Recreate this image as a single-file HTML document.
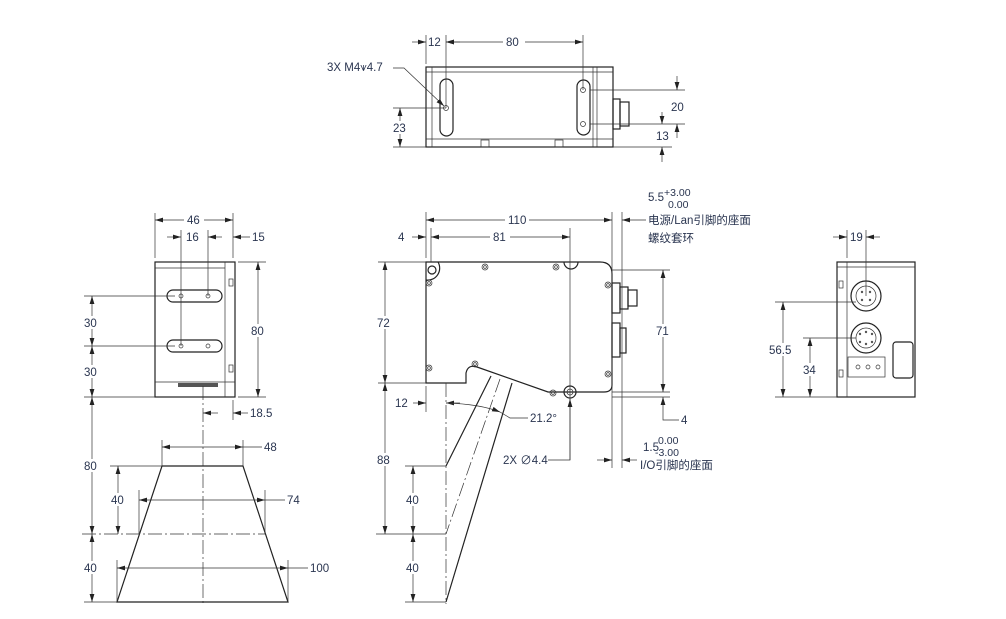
<!DOCTYPE html>
<html><head><meta charset="utf-8"><style>
html,body{margin:0;padding:0;background:#fff}
svg{display:block}
text{font-family:"Liberation Sans","Noto Sans CJK SC",sans-serif;font-size:11.5px;fill:#2a3550}
.o{stroke:#222;stroke-width:1.2;fill:none}
.t{stroke:#333;stroke-width:0.7;fill:none}
.d{stroke:#333;stroke-width:0.7;fill:none;marker-start:url(#a);marker-end:url(#a)}
.e{stroke:#333;stroke-width:0.7;fill:none;marker-end:url(#a)}
.c{stroke:#333;stroke-width:0.7;fill:none;stroke-dasharray:14 3 2 3}
.h{stroke:#333;stroke-width:0.8;fill:#fff}
</style></head><body>
<svg width="1006" height="619" viewBox="0 0 1006 619" xmlns="http://www.w3.org/2000/svg">
<defs><marker id="a" viewBox="0 0 10 6" refX="10" refY="3" markerWidth="8" markerHeight="5" orient="auto-start-reverse" markerUnits="userSpaceOnUse"><path d="M0,0L10,3L0,6z" fill="#222"/></marker></defs>

<!-- TOP VIEW -->
<rect class="o" x="426" y="67" width="187" height="80"/>
<line class="t" x1="426" y1="139" x2="613" y2="139"/>
<line class="t" x1="426" y1="72" x2="613" y2="72"/>
<line class="t" x1="432" y1="67" x2="432" y2="147"/>
<line class="t" x1="593" y1="67" x2="593" y2="147"/>
<line class="t" x1="597" y1="67" x2="597" y2="147"/>
<rect class="o" x="440" y="79" width="13" height="57" rx="6.5"/>
<rect class="o" x="577" y="80" width="13" height="55" rx="6.5"/>
<circle class="t" cx="446" cy="108" r="2.5"/><circle class="t" cx="583" cy="90" r="2.5"/><circle class="t" cx="583" cy="124" r="2.5"/>
<rect class="t" x="481" y="140" width="8" height="7"/><rect class="t" x="555" y="140" width="8" height="7"/>
<rect class="o" x="613" y="99" width="7" height="30"/><rect class="o" x="620" y="102" width="9" height="24"/>
<line class="t" x1="426" y1="35" x2="426" y2="64"/><line class="t" x1="446" y1="35" x2="446" y2="108"/><line class="t" x1="583" y1="35" x2="583" y2="90"/>
<line class="e" x1="412" y1="42" x2="426" y2="42"/><line class="e" x1="460" y1="42" x2="446" y2="42"/>
<line class="d" x1="446" y1="42" x2="583" y2="42"/><rect x="503" y="35" width="22" height="13" fill="#fff"/>
<text x="428" y="46">12</text><text x="506" y="46">80</text>
<line class="t" x1="393" y1="108" x2="446" y2="108"/><line class="t" x1="393" y1="147" x2="426" y2="147"/>
<line class="d" x1="400" y1="108" x2="400" y2="147"/><rect x="392" y="121" width="16" height="13" fill="#fff"/><text x="393" y="132">23</text>
<text x="327" y="71">3X M4⩛4.7</text><polyline class="e" points="393,68 404,68 444,106"/>
<line class="t" x1="590" y1="90" x2="685" y2="90"/><line class="t" x1="590" y1="124" x2="685" y2="124"/><line class="t" x1="613" y1="147" x2="672" y2="147"/>
<line class="e" x1="677" y1="76" x2="677" y2="90"/><line class="e" x1="677" y1="138" x2="677" y2="124"/><text x="671" y="111">20</text>
<line class="e" x1="662" y1="112" x2="662" y2="124"/><line class="e" x1="662" y1="162" x2="662" y2="147"/><text x="656" y="140">13</text>

<!-- LEFT VIEW -->
<rect class="o" x="155" y="262" width="80" height="135"/>
<line class="t" x1="225" y1="262" x2="225" y2="397"/><line class="t" x1="155" y1="268" x2="225" y2="268"/>
<line class="t" x1="155" y1="382" x2="235" y2="382"/>
<rect class="t" x="229" y="279" width="4" height="7"/><rect class="t" x="229" y="365" width="4" height="7"/>
<rect class="o" x="167" y="290" width="55" height="12" rx="6"/><rect class="o" x="167" y="340" width="55" height="12" rx="6"/>
<circle class="t" cx="181" cy="296" r="2"/><circle class="t" cx="208" cy="296" r="2"/><circle class="t" cx="181" cy="346" r="2"/><circle class="t" cx="208" cy="346" r="2"/>
<rect x="178" y="383" width="40" height="4" fill="#555"/>
<line class="t" x1="155" y1="213" x2="155" y2="258"/><line class="t" x1="233" y1="213" x2="233" y2="258"/>
<line class="d" x1="155" y1="220" x2="233" y2="220"/><rect x="184" y="213" width="20" height="13" fill="#fff"/><text x="187" y="224">46</text>
<line class="t" x1="181" y1="230" x2="181" y2="346"/><line class="t" x1="208" y1="230" x2="208" y2="296"/>
<line class="e" x1="167" y1="237" x2="181" y2="237"/><line class="e" x1="222" y1="237" x2="208" y2="237"/><line class="e" x1="250" y1="237" x2="233" y2="237"/>
<text x="186" y="241">16</text><text x="252" y="241">15</text>
<line class="t" x1="238" y1="262" x2="266" y2="262"/><line class="t" x1="238" y1="397" x2="266" y2="397"/>
<line class="d" x1="258" y1="262" x2="258" y2="397"/><rect x="250" y="324" width="18" height="13" fill="#fff"/><text x="251" y="335">80</text>
<line class="t" x1="84" y1="296" x2="175" y2="296"/><line class="t" x1="84" y1="346" x2="175" y2="346"/><line class="t" x1="84" y1="397" x2="155" y2="397"/>
<line class="d" x1="92" y1="296" x2="92" y2="346"/><line class="d" x1="92" y1="346" x2="92" y2="397"/><line class="d" x1="92" y1="397" x2="92" y2="534"/><line class="d" x1="92" y1="534" x2="92" y2="602"/>
<rect x="82" y="316" width="20" height="13" fill="#fff"/><rect x="82" y="365" width="20" height="13" fill="#fff"/><rect x="82" y="459" width="20" height="13" fill="#fff"/><rect x="82" y="561" width="20" height="13" fill="#fff"/>
<text x="84" y="327">30</text><text x="84" y="376">30</text><text x="84" y="470">80</text><text x="84" y="572">40</text>
<line class="c" x1="203" y1="386" x2="203" y2="604"/>
<line class="t" x1="233" y1="400" x2="233" y2="420"/>
<line class="e" x1="218" y1="413" x2="203" y2="413"/><line class="e" x1="248" y1="413" x2="233" y2="413"/><text x="250" y="417">18.5</text>
<polygon class="o" points="162,466 243,466 288,602 117,602"/>
<line class="c" x1="82" y1="534" x2="265" y2="534"/>
<line class="t" x1="110" y1="466" x2="162" y2="466"/>
<line class="t" x1="162" y1="440" x2="162" y2="466"/><line class="t" x1="243" y1="440" x2="243" y2="466"/>
<line class="d" x1="162" y1="447" x2="243" y2="447"/><line class="t" x1="243" y1="447" x2="262" y2="447"/><text x="264" y="451">48</text>
<line class="t" x1="139" y1="490" x2="139" y2="534"/><line class="t" x1="265" y1="490" x2="265" y2="534"/>
<line class="d" x1="139" y1="500" x2="265" y2="500"/><line class="t" x1="265" y1="500" x2="285" y2="500"/><text x="287" y="504">74</text>
<line class="t" x1="117" y1="560" x2="117" y2="602"/><line class="t" x1="288" y1="560" x2="288" y2="602"/>
<line class="d" x1="117" y1="568" x2="288" y2="568"/><line class="t" x1="288" y1="568" x2="308" y2="568"/><text x="310" y="572">100</text>
<line class="d" x1="118" y1="466" x2="118" y2="534"/><rect x="109" y="493" width="18" height="13" fill="#fff"/><text x="111" y="504">40</text>
<line class="t" x1="84" y1="602" x2="117" y2="602"/>

<!-- FRONT VIEW -->
<path class="o" d="M426,262 L600,262 Q612,262 612,274 L612,385 Q612,392 604,392 L548,392 L477,367 Q468,364 466,373 L466,383 L426,383 Z"/>
<path class="o" d="M564,262 A7,7 0 0 0 578,262"/>
<path class="o" d="M426,280 A12,12 0 0 0 438,262"/><circle class="o" cx="432" cy="270" r="4"/>
<g class="t"><circle cx="429" cy="283" r="3"/><circle cx="485" cy="267" r="3"/><circle cx="556" cy="267" r="3"/><circle cx="608" cy="285" r="3"/><circle cx="608" cy="374" r="3"/><circle cx="429" cy="368" r="3"/><circle cx="475" cy="364" r="3"/><circle cx="553" cy="393" r="3"/></g>
<g class="t"><circle cx="429" cy="283" r="1.4"/><circle cx="485" cy="267" r="1.4"/><circle cx="556" cy="267" r="1.4"/><circle cx="608" cy="285" r="1.4"/><circle cx="608" cy="374" r="1.4"/><circle cx="429" cy="368" r="1.4"/><circle cx="475" cy="364" r="1.4"/><circle cx="553" cy="393" r="1.4"/></g>
<circle class="o" cx="570" cy="392" r="6"/><circle class="t" cx="570" cy="392" r="3"/>
<rect class="o" x="612" y="283" width="8" height="30"/><rect class="o" x="620" y="287" width="8" height="22"/><rect class="o" x="628" y="290" width="9" height="16"/>
<rect class="o" x="612" y="323" width="8" height="34"/><rect class="o" x="620" y="328" width="6" height="25"/>
<line class="t" x1="426" y1="212" x2="426" y2="258"/><line class="t" x1="612" y1="212" x2="612" y2="468"/><line class="t" x1="622" y1="212" x2="622" y2="468"/>
<line class="d" x1="426" y1="220" x2="612" y2="220"/><rect x="505" y="213" width="24" height="13" fill="#fff"/><text x="508" y="224">110</text>
<line class="t" x1="431" y1="228" x2="431" y2="262"/><line class="t" x1="570" y1="228" x2="570" y2="460"/>
<line class="e" x1="412" y1="237" x2="426" y2="237"/><text x="398" y="241">4</text>
<line class="d" x1="431" y1="237" x2="570" y2="237"/><rect x="490" y="230" width="20" height="13" fill="#fff"/><text x="493" y="241">81</text>
<line class="e" x1="646" y1="220" x2="622" y2="220"/>
<text x="648" y="201">5.5</text><text x="664" y="196" style="font-size:10.5px">+3.00</text><text x="668" y="208" style="font-size:10.5px">0.00</text>
<text x="648" y="224">电源/Lan引脚的座面</text><text x="648" y="242">螺纹套环</text>
<line class="t" x1="378" y1="262" x2="426" y2="262"/><line class="t" x1="378" y1="383" x2="426" y2="383"/>
<line class="d" x1="385" y1="262" x2="385" y2="383"/><line class="d" x1="385" y1="383" x2="385" y2="534"/>
<rect x="376" y="316" width="18" height="13" fill="#fff"/><text x="377" y="327">72</text>
<rect x="376" y="453" width="18" height="13" fill="#fff"/><text x="377" y="464">88</text>
<line class="t" x1="612" y1="270" x2="670" y2="270"/><line class="t" x1="612" y1="392" x2="670" y2="392"/><line class="t" x1="612" y1="397" x2="670" y2="397"/>
<line class="d" x1="663" y1="270" x2="663" y2="392"/><rect x="655" y="324" width="18" height="13" fill="#fff"/><text x="656" y="335">71</text>
<polyline class="e" points="679,420 663,420 663,397"/><text x="681" y="424">4</text>
<line class="t" x1="426" y1="386" x2="426" y2="412"/>
<line class="c" x1="446" y1="383" x2="446" y2="604"/>
<line class="e" x1="413" y1="403" x2="426" y2="403"/><line class="e" x1="460" y1="403" x2="446" y2="403"/><text x="395" y="407">12</text>
<path class="e" d="M446,403 Q480,404 500,412"/><polyline class="t" points="500,412 510,418 528,418"/><text x="530" y="422">21.2°</text>
<line class="o" x1="491" y1="376" x2="446" y2="466"/>
<line class="c" x1="500" y1="379" x2="446" y2="534"/>
<line class="o" x1="512" y1="383" x2="446" y2="602"/>
<line class="t" x1="376" y1="534" x2="446" y2="534"/><line class="t" x1="405" y1="466" x2="446" y2="466"/><line class="t" x1="405" y1="602" x2="446" y2="602"/>
<line class="d" x1="413" y1="466" x2="413" y2="534"/><line class="d" x1="413" y1="534" x2="413" y2="602"/>
<rect x="404" y="493" width="18" height="13" fill="#fff"/><rect x="404" y="561" width="18" height="13" fill="#fff"/>
<text x="406" y="504">40</text><text x="406" y="572">40</text>
<polyline class="e" points="548,460 570,460 570,399"/><text x="503" y="464">2X ∅4.4</text>
<line class="e" x1="597" y1="460" x2="612" y2="460"/><line class="e" x1="637" y1="460" x2="622" y2="460"/>
<text x="643" y="451">1.5</text><text x="658" y="444" style="font-size:10.5px">0.00</text><text x="655" y="456" style="font-size:10.5px">-3.00</text>
<text x="640" y="469">I/O引脚的座面</text>

<!-- RIGHT VIEW -->
<rect class="o" x="837" y="262" width="78" height="135"/>
<line class="t" x1="847" y1="262" x2="847" y2="397"/><line class="t" x1="837" y1="267" x2="915" y2="267"/>
<rect class="t" x="839" y="281" width="4" height="7"/><rect class="t" x="839" y="370" width="4" height="7"/>
<circle class="o" cx="866" cy="296" r="15"/><circle class="t" cx="866" cy="296" r="10"/>
<circle class="o" cx="866" cy="338" r="15"/><circle class="t" cx="866" cy="338" r="10"/>
<g fill="#555"><circle cx="862" cy="292" r="1.2"/><circle cx="870" cy="292" r="1.2"/><circle cx="862" cy="300" r="1.2"/><circle cx="870" cy="300" r="1.2"/><circle cx="860" cy="334" r="1.2"/><circle cx="866" cy="332" r="1.2"/><circle cx="872" cy="334" r="1.2"/><circle cx="860" cy="342" r="1.2"/><circle cx="866" cy="344" r="1.2"/><circle cx="872" cy="342" r="1.2"/></g>
<rect class="o" x="893" y="342" width="20" height="36" rx="3"/>
<rect class="t" x="848" y="357" width="37" height="20"/>
<circle class="t" cx="858" cy="367" r="2"/><circle class="t" cx="868" cy="367" r="2"/><circle class="t" cx="878" cy="367" r="2"/>
<line class="t" x1="847" y1="230" x2="847" y2="258"/><line class="t" x1="866" y1="230" x2="866" y2="296"/>
<line class="e" x1="833" y1="237" x2="847" y2="237"/><line class="e" x1="880" y1="237" x2="866" y2="237"/><text x="850" y="241">19</text>
<line class="t" x1="775" y1="302" x2="856" y2="302"/><line class="t" x1="803" y1="338" x2="856" y2="338"/><line class="t" x1="775" y1="397" x2="837" y2="397"/>
<line class="d" x1="783" y1="302" x2="783" y2="397"/><rect x="768" y="343" width="28" height="13" fill="#fff"/><text x="769" y="354">56.5</text>
<line class="d" x1="810" y1="338" x2="810" y2="397"/><rect x="801" y="363" width="18" height="13" fill="#fff"/><text x="803" y="374">34</text>
</svg>
</body></html>
